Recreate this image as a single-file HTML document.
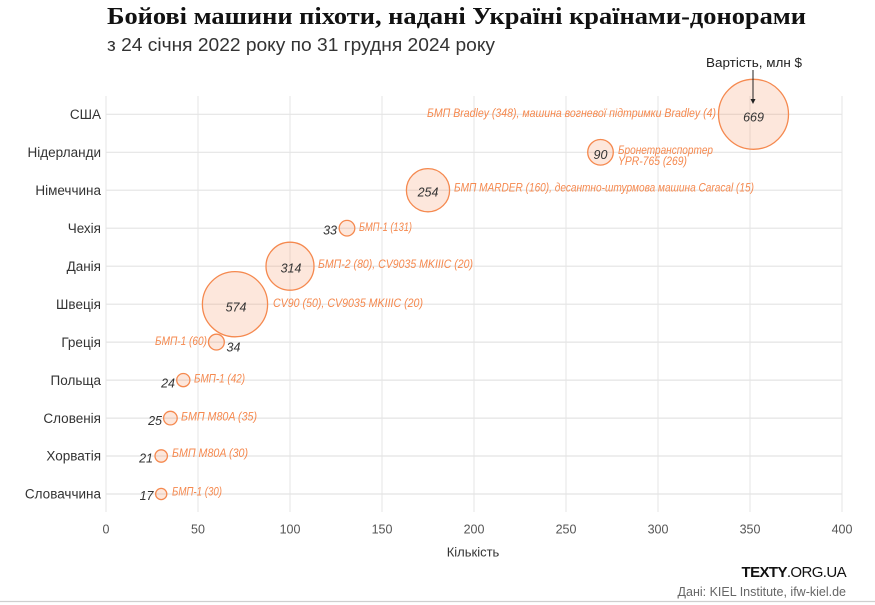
<!DOCTYPE html>
<html>
<head>
<meta charset="utf-8">
<style>
html,body{margin:0;padding:0;background:#fff;}
svg{display:block;}
</style>
</head>
<body>
<svg width="875" height="605" viewBox="0 0 875 605" xmlns="http://www.w3.org/2000/svg">
  <rect x="0" y="0" width="875" height="605" fill="#fff"/>
  <!-- Title -->
  <text x="107" y="24" font-family="Liberation Serif, serif" font-weight="bold" font-size="24.5" fill="#111" textLength="699" lengthAdjust="spacingAndGlyphs">Бойові машини піхоти, надані Україні країнами-донорами</text>
  <text x="107" y="51" font-family="Liberation Sans, sans-serif" font-size="18.5" fill="#333" textLength="388" lengthAdjust="spacingAndGlyphs">з 24 січня 2022 року по 31 грудня 2024 року</text>

  <!-- Grid -->
  <g stroke="#e6e6e6" stroke-width="1">
    <line x1="106" y1="96" x2="106" y2="512"/>
    <line x1="198" y1="96" x2="198" y2="512"/>
    <line x1="290" y1="96" x2="290" y2="512"/>
    <line x1="382" y1="96" x2="382" y2="512"/>
    <line x1="474" y1="96" x2="474" y2="512"/>
    <line x1="566" y1="96" x2="566" y2="512"/>
    <line x1="658" y1="96" x2="658" y2="512"/>
    <line x1="750" y1="96" x2="750" y2="512"/>
    <line x1="842" y1="96" x2="842" y2="512"/>
  </g>
  <g stroke="#e4e4e4" stroke-width="1.2">
    <line x1="106" y1="114.3" x2="842" y2="114.3"/>
    <line x1="106" y1="152.3" x2="842" y2="152.3"/>
    <line x1="106" y1="190.2" x2="842" y2="190.2"/>
    <line x1="106" y1="228.2" x2="842" y2="228.2"/>
    <line x1="106" y1="266.2" x2="842" y2="266.2"/>
    <line x1="106" y1="304.2" x2="842" y2="304.2"/>
    <line x1="106" y1="342.1" x2="842" y2="342.1"/>
    <line x1="106" y1="380.1" x2="842" y2="380.1"/>
    <line x1="106" y1="418.1" x2="842" y2="418.1"/>
    <line x1="106" y1="456" x2="842" y2="456"/>
    <line x1="106" y1="494" x2="842" y2="494"/>
  </g>

  <!-- Country labels -->
  <g font-family="Liberation Sans, sans-serif" font-size="13.5" fill="#333" text-anchor="end">
    <text x="101" y="119">США</text>
    <text x="101" y="157">Нідерланди</text>
    <text x="101" y="194.9">Німеччина</text>
    <text x="101" y="232.9">Чехія</text>
    <text x="101" y="270.9">Данія</text>
    <text x="101" y="308.9">Швеція</text>
    <text x="101" y="346.8">Греція</text>
    <text x="101" y="384.8">Польща</text>
    <text x="101" y="422.8">Словенія</text>
    <text x="101" y="460.7">Хорватія</text>
    <text x="101" y="498.7">Словаччина</text>
  </g>

  <!-- X tick labels -->
  <g font-family="Liberation Sans, sans-serif" font-size="12.5" fill="#555" text-anchor="middle">
    <text x="106" y="533.5">0</text>
    <text x="198" y="533.5">50</text>
    <text x="290" y="533.5">100</text>
    <text x="382" y="533.5">150</text>
    <text x="474" y="533.5">200</text>
    <text x="566" y="533.5">250</text>
    <text x="658" y="533.5">300</text>
    <text x="750" y="533.5">350</text>
    <text x="842" y="533.5">400</text>
  </g>
  <text x="473" y="556.5" font-family="Liberation Sans, sans-serif" font-size="13" fill="#333" text-anchor="middle">Кількість</text>

  <!-- Bubbles -->
  <g fill="#f5894f" fill-opacity="0.2" stroke="#f5894f" stroke-width="1.3">
    <circle cx="753.5" cy="114.3" r="35"/>
    <circle cx="600.5" cy="152.3" r="12.8"/>
    <circle cx="428" cy="190.2" r="21.6"/>
    <circle cx="347" cy="228.2" r="7.8"/>
    <circle cx="290" cy="266.2" r="24"/>
    <circle cx="235" cy="304.2" r="32.6"/>
    <circle cx="216.4" cy="342.1" r="7.9"/>
    <circle cx="183.3" cy="380.1" r="6.6"/>
    <circle cx="170.4" cy="418.1" r="6.8"/>
    <circle cx="161.2" cy="456" r="6.2"/>
    <circle cx="161.2" cy="494" r="5.6"/>
  </g>

  <!-- Value labels -->
  <g font-family="Liberation Sans, sans-serif" font-style="italic" font-size="12.5" fill="#333">
    <text x="753.5" y="121.5" text-anchor="middle">669</text>
    <text x="600.5" y="159" text-anchor="middle">90</text>
    <text x="428" y="196.5" text-anchor="middle">254</text>
    <text x="337" y="234.5" text-anchor="end">33</text>
    <text x="291" y="272.5" text-anchor="middle">314</text>
    <text x="236" y="311.5" text-anchor="middle">574</text>
    <text x="226.5" y="351.5">34</text>
    <text x="175" y="387.5" text-anchor="end">24</text>
    <text x="162" y="425" text-anchor="end">25</text>
    <text x="153" y="462.5" text-anchor="end">21</text>
    <text x="153.5" y="500" text-anchor="end">17</text>
  </g>

  <!-- Descriptions -->
  <g font-family="Liberation Sans, sans-serif" font-style="italic" font-size="11.5" fill="#f5894f" lengthAdjust="spacingAndGlyphs">
    <text x="716" y="117" text-anchor="end" textLength="289" lengthAdjust="spacingAndGlyphs">БМП Bradley (348), машина вогневої підтримки Bradley (4)</text>
    <text x="618" y="154" textLength="95" lengthAdjust="spacingAndGlyphs">Бронетранспортер</text>
    <text x="618" y="165" textLength="69" lengthAdjust="spacingAndGlyphs">YPR-765 (269)</text>
    <text x="454" y="191.5" textLength="300" lengthAdjust="spacingAndGlyphs">БМП MARDER (160), десантно-штурмова машина Caracal (15)</text>
    <text x="359" y="231" textLength="53" lengthAdjust="spacingAndGlyphs">БМП-1 (131)</text>
    <text x="318" y="268" textLength="155" lengthAdjust="spacingAndGlyphs">БМП-2 (80), CV9035 MKIIIC (20)</text>
    <text x="273" y="307" textLength="150" lengthAdjust="spacingAndGlyphs">CV90 (50), CV9035 MKIIIC (20)</text>
    <text x="155" y="345" textLength="52" lengthAdjust="spacingAndGlyphs">БМП-1 (60)</text>
    <text x="194" y="382.5" textLength="51" lengthAdjust="spacingAndGlyphs">БМП-1 (42)</text>
    <text x="181" y="420.5" textLength="76" lengthAdjust="spacingAndGlyphs">БМП M80A (35)</text>
    <text x="172" y="457" textLength="76" lengthAdjust="spacingAndGlyphs">БМП M80A (30)</text>
    <text x="172" y="495.5" textLength="50" lengthAdjust="spacingAndGlyphs">БМП-1 (30)</text>
  </g>

  <!-- Size legend annotation -->
  <text x="754" y="67" font-family="Liberation Sans, sans-serif" font-size="13" fill="#222" text-anchor="middle" textLength="96" lengthAdjust="spacingAndGlyphs">Вартість, млн $</text>
  <line x1="753" y1="70" x2="753" y2="100" stroke="#222" stroke-width="1"/>
  <polygon points="750.5,99 755.5,99 753,104" fill="#222"/>

  <!-- Footer -->
  <text x="846" y="577" font-family="Liberation Sans, sans-serif" font-size="15" fill="#111" text-anchor="end" letter-spacing="-0.6"><tspan font-weight="bold">TEXTY</tspan>.ORG.UA</text>
  <text x="846" y="596" font-family="Liberation Sans, sans-serif" font-size="12.5" fill="#666" text-anchor="end">Дані: KIEL Institute, ifw-kiel.de</text>
  <line x1="0" y1="601.5" x2="875" y2="601.5" stroke="#cfcfcf" stroke-width="1.2"/>
</svg>
</body>
</html>
